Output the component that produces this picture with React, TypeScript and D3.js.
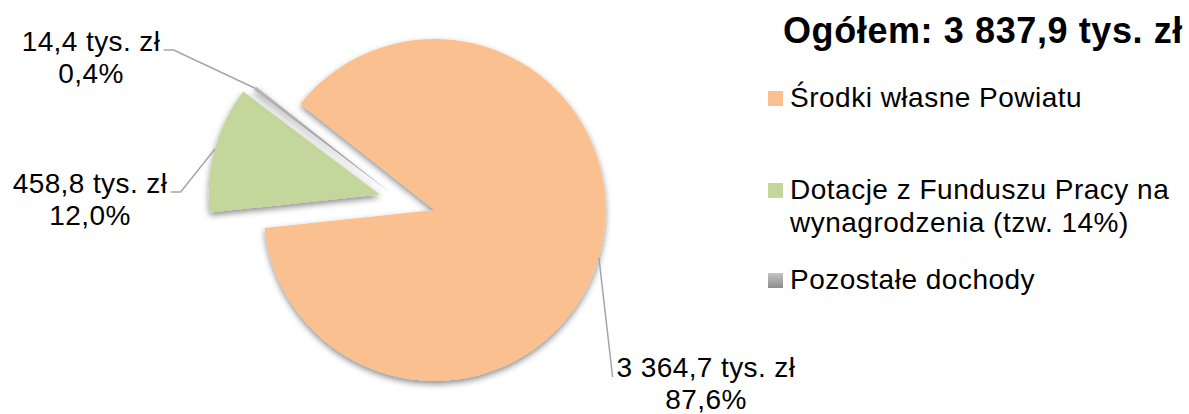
import React, { useEffect, useRef } from "react";
import * as d3 from "d3";

const CATEGORIES = [
  "Środki własne Powiatu",
  "Dotacje z Funduszu Pracy na wynagrodzenia (tzw. 14%)",
  "Pozostałe dochody",
];
const VALUES = [3364.7, 458.8, 14.4];
const VALUE_LABELS = ["3 364,7 tys. zł", "458,8 tys. zł", "14,4 tys. zł"];
const PERCENT_LABELS = ["87,6%", "12,0%", "0,4%"];
const LEGEND_LINES = [
  ["Środki własne Powiatu"],
  ["Dotacje z Funduszu Pracy na", "wynagrodzenia (tzw. 14%)"],
  ["Pozostałe dochody"],
];
const TITLE = "Ogółem: 3 837,9 tys. zł";

const W = 1189;
const H = 414;
const FONT = "'Liberation Sans', Arial, sans-serif";
const COLORS = ["#FAC090", "#C3D69B", "url(#grayGrad)"];
const LEGEND_COLORS = ["#FAC090", "#C3D69B", "url(#grayGradL)"];
const EXPLODE = [36, 21, 12];
const START_DEG = 308.3;
const CX = 400;
const CY = 200;
const R = 171;
// label layout: center x, first baseline y, side
const LABEL_POS = [
  { x: 706, y: 377, side: "below" },
  { x: 90, y: 193, side: "left" },
  { x: 91, y: 51, side: "left" },
];
const LINE_H = 32;

export default function App() {
  const ref = useRef<SVGSVGElement | null>(null);

  useEffect(() => {
    const svg = d3.select(ref.current);
    svg.selectAll("*").remove();

    const defs = svg.append("defs");
    const f = defs
      .append("filter")
      .attr("id", "shadow")
      .attr("x", "-20%")
      .attr("y", "-20%")
      .attr("width", "140%")
      .attr("height", "140%");
    f.append("feDropShadow")
      .attr("dx", 0)
      .attr("dy", 3)
      .attr("stdDeviation", 3)
      .attr("flood-color", "#000")
      .attr("flood-opacity", 0.45);

    const g1 = defs
      .append("linearGradient")
      .attr("id", "grayGrad")
      .attr("x1", 0)
      .attr("y1", 0)
      .attr("x2", 1)
      .attr("y2", 1);
    g1.append("stop").attr("offset", "0%").attr("stop-color", "#B8B8B8");
    g1.append("stop").attr("offset", "100%").attr("stop-color", "#9A9A9A");
    const g2 = defs
      .append("linearGradient")
      .attr("id", "grayGradL")
      .attr("x1", 0)
      .attr("y1", 0)
      .attr("x2", 0)
      .attr("y2", 1);
    g2.append("stop").attr("offset", "0%").attr("stop-color", "#C4C4C4");
    g2.append("stop").attr("offset", "100%").attr("stop-color", "#8C8C8C");

    const deg = Math.PI / 180;
    const pie = d3
      .pie<number>()
      .sort(null)
      .value((d) => d)
      .startAngle(START_DEG * deg)
      .endAngle((START_DEG + 360) * deg);
    const arcs = pie(VALUES);
    const arcGen = d3.arc<d3.PieArcDatum<number>>().innerRadius(0).outerRadius(R);

    const pieG = svg.append("g").attr("transform", `translate(${CX},${CY})`);
    const anchors: [number, number][] = [];
    arcs.forEach((a, i) => {
      const mid = (a.startAngle + a.endAngle) / 2;
      const ox = Math.sin(mid) * EXPLODE[i];
      const oy = -Math.cos(mid) * EXPLODE[i];
      pieG
        .append("path")
        .attr("d", arcGen(a) as string)
        .attr("transform", `translate(${ox},${oy})`)
        .attr("fill", COLORS[i])
        .attr("filter", "url(#shadow)");
      anchors.push([
        CX + Math.sin(mid) * (R + EXPLODE[i]),
        CY - Math.cos(mid) * (R + EXPLODE[i]),
      ]);
    });

    // data labels
    const labG = svg.append("g");
    LABEL_POS.forEach((p, i) => {
      const t = labG
        .append("text")
        .attr("font-family", FONT)
        .attr("font-size", 28)
        .attr("letter-spacing", 0.4)
        .attr("fill", "#000")
        .attr("text-anchor", "middle");
      t.append("tspan").attr("x", p.x).attr("y", p.y).text(VALUE_LABELS[i]);
      t.append("tspan").attr("x", p.x).attr("y", p.y + LINE_H).text(PERCENT_LABELS[i]);
      const bb = (t.node() as SVGTextElement).getBBox();
      let pts: [number, number][];
      if (p.side === "below") {
        pts = [anchors[i], [bb.x - 4, p.y]];
      } else {
        const ex = bb.x + bb.width + 3;
        pts = [anchors[i], [ex + 10, p.y - 1], [ex, p.y - 1]];
      }
      labG
        .append("path")
        .attr("d", d3.line()(pts) as string)
        .attr("fill", "none")
        .attr("stroke", "#A6A6A6")
        .attr("stroke-width", 1.5);
    });

    // title
    svg
      .append("text")
      .attr("x", 783)
      .attr("y", 43)
      .attr("font-family", FONT)
      .attr("font-weight", "bold")
      .attr("font-size", 36)
      .attr("letter-spacing", 0.6)
      .attr("fill", "#000")
      .text(TITLE);

    // legend
    const legY = [107, 199, 289];
    const legG = svg.append("g");
    CATEGORIES.forEach((c, i) => {
      legG
        .append("rect")
        .attr("x", 768)
        .attr("y", legY[i] - 16)
        .attr("width", 15)
        .attr("height", 15)
        .attr("fill", LEGEND_COLORS[i]);
      const t = legG
        .append("text")
        .attr("font-family", FONT)
        .attr("font-size", 28)
        .attr("letter-spacing", 0.5)
        .attr("fill", "#000");
      t.append("title").text(c);
      LEGEND_LINES[i].forEach((ln, j) => {
        t.append("tspan")
          .attr("x", 790)
          .attr("y", legY[i] + j * 33)
          .text(ln);
      });
    });
  }, []);

  return (
    <svg
      ref={ref}
      width={W}
      height={H}
      style={{ position: "absolute", left: 0, top: 0, background: "#fff" }}
    />
  );
}
